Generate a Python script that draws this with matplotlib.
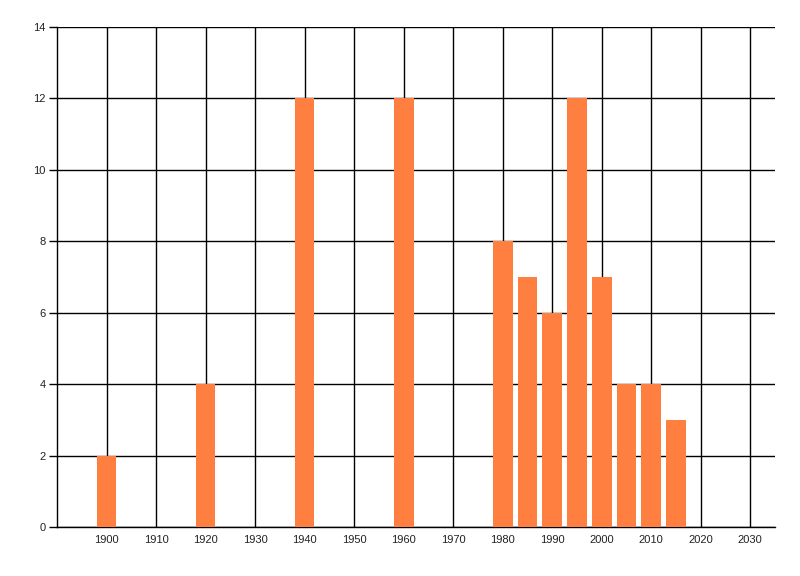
import matplotlib
matplotlib.use("Agg")
import matplotlib.pyplot as plt

years = [1900, 1920, 1940, 1960, 1980, 1985, 1990, 1995, 2000, 2005, 2010, 2015]
counts = [2, 4, 12, 12, 8, 7, 6, 12, 7, 4, 4, 3]
x_ticks = list(range(1900, 2031, 10))
y_ticks = list(range(0, 15, 2))

fig = plt.figure(figsize=(8, 5.76), dpi=100)
ax = fig.add_axes([57/800, 1-527/576, (775-57)/800, (527-27)/576])

ax.bar(years, counts, width=4, color="#FF7F40", zorder=3)

ax.set_xlim(1890, 2035)
ax.set_ylim(0, 14)
ax.set_xticks(x_ticks)
ax.set_yticks(y_ticks)
ax.grid(True, color="black", linewidth=1, zorder=1)
for s in ["top", "right"]:
    ax.spines[s].set_visible(False)
for s in ["left", "bottom"]:
    ax.spines[s].set_linewidth(1)
ax.tick_params(axis="y", length=6, width=1, labelsize=8, pad=2)
ax.tick_params(axis="x", length=0, labelsize=8, pad=6)
for lab in ax.get_xticklabels() + ax.get_yticklabels():
    lab.set_family("Liberation Sans")
    lab.set_color("#222222")

fig.savefig("out.png", dpi=100)
